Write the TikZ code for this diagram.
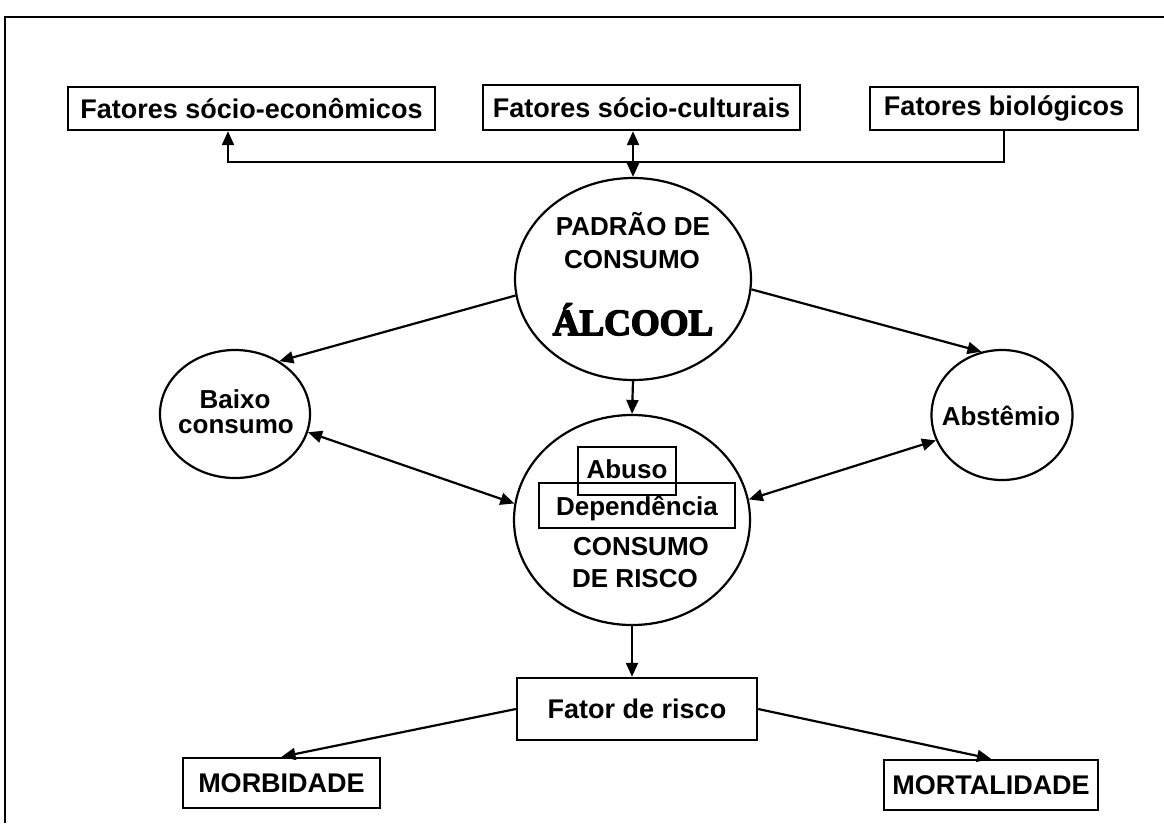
\documentclass[tikz,border=0pt]{standalone}
\usepackage{fontspec}
\setmainfont{Liberation Sans}
\newfontfamily\heavyserif{Liberation Serif}[BoldFeatures={FakeBold=4}]
\usetikzlibrary{shapes.geometric,arrows.meta,calc}
\begin{document}
\begin{tikzpicture}[x=1pt,y=-1pt,
  box/.style={draw, line width=2.4pt, inner sep=0pt, font=\bfseries\fontsize{27}{30}\selectfont},
  oval/.style={draw, ellipse, line width=2.2pt, inner sep=0pt},
  lbl/.style={font=\bfseries\fontsize{26}{28}\selectfont, inner sep=0pt, anchor=base},
  con/.style={line width=2.2pt},
  arr/.style={con, -{Triangle[length=14pt,width=12pt]}},
  biarr/.style={con, {Triangle[length=14pt,width=12pt]}-{Triangle[length=14pt,width=12pt]}}
]
\useasboundingbox (0,0) rectangle (1164,823);
% frame
\draw[line width=2.8pt] (5,823) -- (5,17) -- (1164,17);

% top boxes
\node[box, minimum width=367pt, minimum height=43pt] (b1) at (251.5,108.5) {Fatores sócio-econômicos};
\node[box, minimum width=317pt, minimum height=45pt] (b2) at (641.5,107.5) {Fatores sócio-culturais};
\node[box, minimum width=268pt, minimum height=43pt] (b3) at (1004,108.5) {Fatores biológicos};

% ellipses
\node[oval, minimum width=236pt, minimum height=202pt] (top) at (633,279) {};
\node[oval, minimum width=150pt, minimum height=128pt] (baixo) at (235,414) {};
\node[oval, minimum width=141pt, minimum height=130pt] (abst) at (1002,415) {};
\node[oval, minimum width=236pt, minimum height=210pt] (bot) at (632,520) {};

% top ellipse text
\node[lbl] (t1) at (633,235) {PADRÃO DE};
\node[lbl] (t2) at (632,268) {CONSUMO};
\node[inner sep=0pt, anchor=base, font=\heavyserif\bfseries\fontsize{37}{40}\selectfont] (t3) at (633,335) {ÁLCOOL};

% side texts
\node[lbl] (bx1) at (235,408) {Baixo};
\node[lbl] (bx2) at (236,433) {consumo};
\node[lbl] (ab1) at (1001,425) {Abstêmio};

% bottom ellipse content
\node[draw, line width=2.2pt, minimum width=98pt, minimum height=48pt, inner sep=0pt] (abuso) at (627,471) {};
\node[draw, line width=2.2pt, minimum width=196pt, minimum height=45pt, inner sep=0pt] (dep) at (637,505.5) {};
\node[lbl] (abt) at (627,478) {Abuso};
\node[lbl] (dpt) at (637,515) {Dependência};
\node[lbl] (c1) at (641,555) {CONSUMO};
\node[lbl] (c2) at (635,587) {DE RISCO};

% bottom boxes
\node[box, minimum width=240pt, minimum height=62pt] (fator) at (637,709) {Fator de risco};
\node[box, minimum width=197pt, minimum height=50pt] (morb) at (281.5,783) {MORBIDADE};
\node[box, minimum width=214pt, minimum height=50pt] (mort) at (991,785) {MORTALIDADE};

% top connectors
\coordinate (jl) at (228,162);
\draw[arr] (b3.south) |- (jl) -- (jl |- b1.south);
\draw[biarr] (b2.south -| top.north) -- (top.north);

% ellipse connectors
\draw[arr] (top.188) -- (baixo.50);
\draw[arr] (top.355) -- (abst.108);
\draw[arr] (top.south) -- (bot.north);
\draw[biarr] (baixo.346) -- (bot.172);
\draw[biarr] (bot.10) -- (abst.201);
\draw[arr] (bot.south) -- (bot.south |- fator.north);
\draw[arr] (fator.west) -- (morb.north);
\draw[arr] (fator.east) -- (mort.north);
\end{tikzpicture}
\end{document}
